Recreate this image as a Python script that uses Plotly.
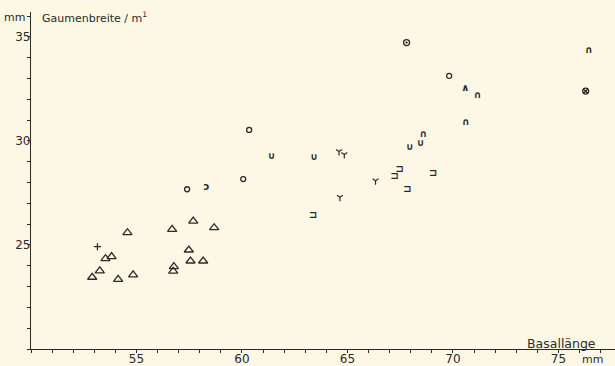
import plotly.graph_objects as go

# ---- data (Basallänge mm, Gaumenbreite mm) ----
tri_x = [52.90, 53.26, 53.53, 53.82, 54.13, 54.57, 54.84, 56.69, 57.69, 58.68, 57.48, 57.56, 58.16, 56.77, 56.74]
tri_y = [23.45, 23.76, 24.34, 24.44, 23.35, 25.59, 23.56, 25.75, 26.15, 25.83, 24.76, 24.23, 24.23, 23.96, 23.74]

plus_x = [53.15]
plus_y = [24.92]

circ_x = [57.40, 60.06, 69.82, 60.34]
circ_y = [27.68, 28.17, 33.13, 30.53]

circdot_x = [67.80]
circdot_y = [34.73]

circx_x = [76.29]
circx_y = [32.40]

yfork_x = [64.60, 64.85, 64.64, 66.33]
yfork_y = [29.50, 29.35, 27.29, 28.09]

cup_x = [61.40, 63.42, 67.95, 68.46]
cup_y = [29.25, 29.22, 29.68, 29.89]

brk_x = [63.37, 67.48, 67.24, 67.84, 69.06]
brk_y = [26.44, 28.61, 28.28, 27.68, 28.45]

arch_x = [68.59, 70.61, 71.16, 76.44]
arch_y = [30.32, 30.88, 32.21, 34.33]

caret_x = [70.59]
caret_y = [32.53]

opc_x = [58.32]
opc_y = [27.77]

x_ticks = [55, 60, 65, 70, 75]
y_ticks = [25, 30, 35]

INK = "#2a2a2a"
BG = "#fdf8e6"
FONT = "DejaVu Sans"

fig = go.Figure()

def mk(x, y, symbol, size, lw=1.3):
    fig.add_trace(go.Scatter(
        x=x, y=y, mode="markers", showlegend=False, hoverinfo="skip",
        marker=dict(symbol=symbol, size=size, color=INK,
                    line=dict(color=INK, width=lw))))

def tx(x, y, ch, size=10):
    fig.add_trace(go.Scatter(
        x=x, y=y, mode="text", text=["<b>" + ch + "</b>"] * len(x), showlegend=False,
        hoverinfo="skip", textposition="middle center",
        textfont=dict(family=FONT, size=size, color=INK)))

mk(tri_x, tri_y, "triangle-up-open", 8)
mk(plus_x, plus_y, "cross-thin-open", 5)
mk(circ_x, circ_y, "circle-open", 5)
mk(circdot_x, circdot_y, "circle-open-dot", 6)
mk(circx_x, circx_y, "circle-x-open", 6)
mk(yfork_x, yfork_y, "y-down-open", 5, 1.2)
tx(cup_x, cup_y, "∪", 10)
tx(brk_x, brk_y, "⊐", 10)
tx(arch_x, arch_y, "∩", 10)
tx(caret_x, caret_y, "∧", 10)
tx(opc_x, opc_y, "ɔ", 10)

axis_common = dict(
    showline=True, linecolor=INK, linewidth=1.2, mirror=False,
    showgrid=False, zeroline=False, automargin=False,
    ticks="outside", ticklen=3, tickwidth=1, tickcolor=INK,
    tickfont=dict(family=FONT, size=12, color=INK),
    minor=dict(dtick=1, tick0=0, ticks="outside", ticklen=3, tickwidth=1, tickcolor=INK),
)

fig.update_layout(
    width=615, height=366,
    margin=dict(l=31, r=0, t=12, b=17, pad=0, autoexpand=False),
    paper_bgcolor=BG, plot_bgcolor=BG,
    xaxis=dict(range=[50, 77.68], tickmode="array", tickvals=x_ticks,
               ticktext=[str(v) for v in x_ticks], ticklabelstandoff=-5, **axis_common),
    yaxis=dict(range=[20, 36.2], tickmode="array", tickvals=y_ticks,
               ticktext=[str(v) for v in y_ticks], ticklabelstandoff=-6, **axis_common),
    font=dict(family=FONT, color=INK),
    annotations=[
        dict(text="mm", xref="paper", yref="paper", x=-0.029, y=0.985,
             xanchor="center", yanchor="middle", showarrow=False,
             font=dict(size=11, family=FONT, color=INK)),
        dict(text="Gaumenbreite / m<sup>1</sup>", xref="paper", yref="paper",
             x=0.0154, y=0.985, xanchor="left", yanchor="middle", showarrow=False,
             font=dict(size=11, family=FONT, color=INK)),
        dict(text="Basallänge", xref="paper", yref="paper", x=0.971, y=0.015,
             xanchor="right", yanchor="middle", showarrow=False,
             font=dict(size=12.5, family=FONT, color=INK)),
        dict(text="mm", xref="paper", yref="paper", x=0.961, y=-0.030,
             xanchor="center", yanchor="middle", showarrow=False,
             font=dict(size=11, family=FONT, color=INK)),
    ],
)

fig.write_html("out.html")
